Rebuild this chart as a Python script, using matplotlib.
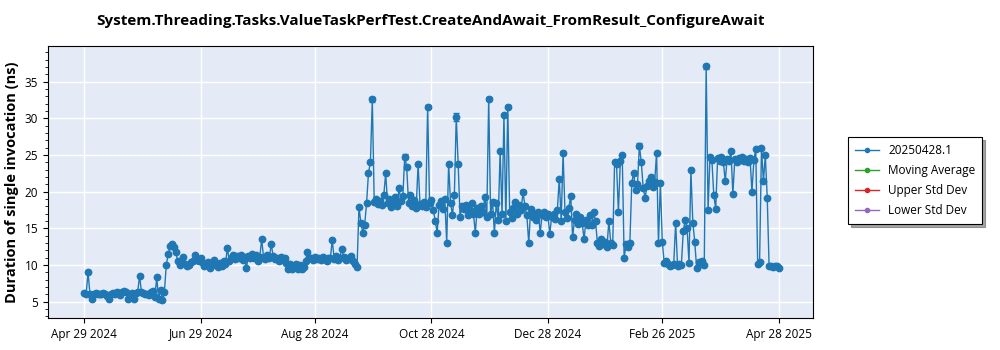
import matplotlib
matplotlib.use('Agg')
import matplotlib.pyplot as plt
from matplotlib.ticker import MultipleLocator
from matplotlib.lines import Line2D
import pandas as pd

plt.rcParams['font.family'] = ['Open Sans', 'DejaVu Sans']

# Daily durations (ns), one list per month, first day given separately
start = '2024-04-29'
apr_2024 = [6.2, 6.1]
may_2024 = [9.0, 6.0, 5.4, 6.1, 6.2, 6.1, 6.0, 6.1, 6.2, 6.1, 5.8, 5.3, 6.0, 6.2, 6.1, 6.3,
            6.2, 5.9, 6.3, 6.4, 6.3, 5.3, 5.6, 6.2, 5.4, 6.2, 6.3, 8.5, 6.3, 6.2, 6.0]
jun_2024 = [6.1, 5.9, 6.3, 6.4, 5.6, 8.3, 5.3, 6.6, 5.2, 6.3, 10.0, 11.5, 12.6, 12.9, 12.4,
            11.8, 10.5, 10.0, 10.3, 11.1, 10.2, 9.8, 10.0, 10.4, 10.6, 11.3, 10.7, 10.5, 10.9, 10.3]
jul_2024 = [9.8, 10.2, 10.4, 9.6, 10.0, 10.7, 10.1, 9.7, 10.3, 9.9, 10.5, 10.1, 12.3, 10.6, 11.0,
            11.3, 10.8, 11.2, 10.9, 11.4, 10.7, 11.1, 9.6, 11.2, 11.0, 11.5, 10.9, 11.3, 10.6, 11.1, 13.5]
aug_2024 = [11.0, 10.8, 11.3, 10.9, 12.9, 11.2, 10.8, 11.0, 10.6, 11.1, 10.7, 10.9, 10.3, 9.5, 10.2,
            9.4, 9.8, 10.1, 9.5, 10.0, 9.4, 9.7, 10.6, 11.8, 10.9, 11.0, 10.7, 11.1, 10.8, 11.0, 10.7]
sep_2024 = [11.1, 10.8, 10.6, 11.0, 10.9, 13.4, 10.8, 11.2, 10.7, 11.0, 12.2, 11.1, 10.7, 11.0, 10.8,
            11.2, 10.6, 10.1, 9.7, 17.9, 15.8, 14.4, 15.5, 18.5, 22.6, 24.0, 32.6, 18.6, 19.0, 18.3]
oct_2024 = [18.8, 18.2, 19.5, 22.5, 18.4, 19.0, 17.9, 18.6, 19.3, 18.1, 20.5, 18.7, 19.4, 24.8, 23.4,
            18.5, 19.6, 18.0, 18.9, 17.8, 23.8, 18.3, 18.0, 18.6, 17.9, 31.6, 18.4, 18.9, 17.5, 16.0, 14.4]
nov_2024 = [18.2, 18.8, 17.6, 19.0, 13.0, 23.8, 18.5, 16.8, 19.5, 30.2, 23.8, 16.5, 18.0, 17.6, 18.2,
            16.8, 17.5, 18.4, 17.0, 14.4, 17.8, 16.9, 18.0, 17.3, 19.3, 16.5, 32.7, 17.0, 18.6, 14.4]
dec_2024 = [18.5, 16.2, 25.5, 17.0, 30.4, 16.0, 31.6, 17.2, 16.4, 17.8, 18.6, 17.0, 18.2, 17.5, 20.0,
            18.0, 16.8, 13.0, 17.6, 16.5, 17.0, 16.2, 17.3, 14.4, 16.8, 17.2, 16.5, 17.0, 14.2, 16.6, 17.0]
jan_2025 = [16.3, 17.5, 21.8, 16.0, 25.3, 17.2, 16.4, 17.8, 19.4, 13.8, 16.2, 17.0, 15.6, 16.5, 15.8,
            13.5, 16.2, 15.5, 16.8, 15.4, 17.3, 16.0, 13.0, 12.6, 13.5, 12.8, 13.2, 12.5, 16.0, 13.0, 12.7]
feb_2025 = [24.0, 23.8, 17.2, 24.2, 25.0, 11.0, 12.8, 12.5, 13.0, 21.2, 22.6, 20.2, 21.0, 26.3, 24.0,
            20.5, 19.2, 20.8, 21.5, 22.0, 20.6, 21.3, 25.3, 13.0, 21.2, 13.2, 10.3, 10.6]
mar_2025 = [10.2, 9.8, 10.0, 10.1, 15.8, 9.9, 10.2, 10.0, 14.6, 16.2, 15.0, 10.3, 22.9, 15.8, 13.2,
            9.6, 10.4, 10.1, 10.5, 10.0, 37.1, 17.5, 24.8, 24.3, 19.5, 17.7, 24.6, 24.2, 24.8, 24.0, 21.5]
apr_2025 = [24.5, 24.2, 25.5, 19.7, 24.4, 24.0, 24.6, 24.3, 24.8, 24.2, 24.5, 24.1, 24.6, 20.0, 24.3,
            25.8, 10.2, 10.4, 26.0, 21.4, 25.0, 19.2, 9.8, 9.9, 9.7, 9.9, 9.8, 9.6]

# error bars visible on the larger spikes
err_dates = ['2024-09-27', '2024-10-14', '2024-10-26', '2024-11-10', '2024-11-27',
             '2024-12-07', '2024-12-15', '2025-01-05', '2025-02-14', '2025-03-21']
err_sizes = [0.3, 0.3, 0.2, 0.6, 0.2, 0.2, 0.3, 0.2, 0.3, 0.3]

tick_dates = ['2024-04-29', '2024-06-29', '2024-08-28', '2024-10-28',
              '2024-12-28', '2025-02-26', '2025-04-28']
tick_labels = ['Apr 29 2024', 'Jun 29 2024', 'Aug 28 2024', 'Oct 28 2024',
               'Dec 28 2024', 'Feb 26 2025', 'Apr 28 2025']

legend_labels = ['20250428.1', 'Moving Average', 'Upper Std Dev', 'Lower Std Dev']
legend_colors = ['#1f77b4', '#2ca02c', '#d62728', '#9467bd']

values = (apr_2024 + may_2024 + jun_2024 + jul_2024 + aug_2024 + sep_2024 + oct_2024
          + nov_2024 + dec_2024 + jan_2025 + feb_2025 + mar_2025 + apr_2025)
dates = pd.date_range(start, periods=len(values), freq='D')
series = pd.Series(values, index=dates)

blue = legend_colors[0]
fig = plt.figure(figsize=(10, 3.5), dpi=100)
ax = fig.add_axes([0.048, 0.092, 0.765, 0.777])
ax.set_facecolor('#e5ebf6')

ax.plot(series.index, series.values, color=blue, lw=1, marker='o', ms=4.6, zorder=3)
ed = pd.to_datetime(err_dates)
ax.errorbar(ed, series.loc[ed].values, yerr=err_sizes, fmt='none', ecolor=blue,
            capsize=2.5, lw=1, zorder=3)

ax.set_xlim(pd.Timestamp('2024-04-10'), pd.Timestamp('2025-05-16'))
ax.set_ylim(2.8, 39.9)
ax.set_xticks(pd.to_datetime(tick_dates))
ax.set_xticklabels(tick_labels, fontsize=8.5)
ax.yaxis.set_major_locator(MultipleLocator(5))
ax.yaxis.set_minor_locator(MultipleLocator(1))
ax.tick_params(axis='y', labelsize=8.5)
ax.grid(True, color='white', lw=1)
ax.set_axisbelow(True)

ax.set_title('System.Threading.Tasks.ValueTaskPerfTest.CreateAndAwait_FromResult_ConfigureAwait',
             fontsize=11, fontweight='bold', pad=15)
ax.set_ylabel('Duration of single invocation (ns)', fontsize=10.5, fontweight='bold')

# legend uses small markers like the original
handles = [Line2D([], [], color=c, marker='o', ms=3, lw=1) for c in legend_colors]
leg = fig.legend(handles, legend_labels, loc='upper left', bbox_to_anchor=(0.848, 0.609),
                 fontsize=8.5, fancybox=False, shadow=True, edgecolor='black',
                 handlelength=2, borderpad=0.6, labelspacing=0.6, borderaxespad=0)
leg.get_frame().set_linewidth(0.8)

fig.savefig('out.png', dpi=100)
